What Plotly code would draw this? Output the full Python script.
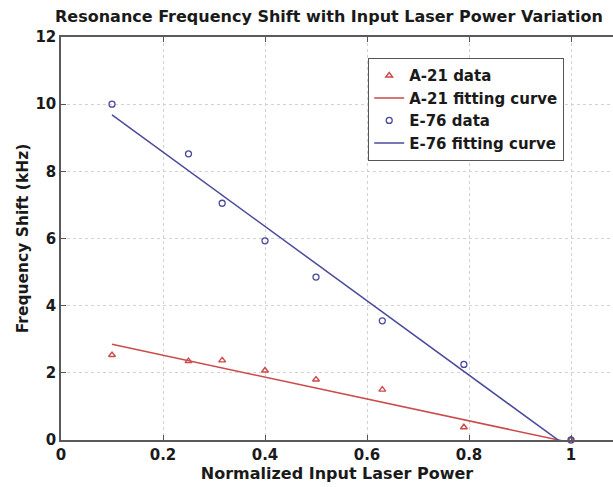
import plotly.graph_objects as go

# Normalized input laser power
power = [0.1, 0.25, 0.316, 0.4, 0.5, 0.63, 0.79, 1.0]
# Frequency shift (kHz)
a21_shift = [2.53, 2.35, 2.37, 2.07, 1.8, 1.5, 0.38, 0.0]
e76_shift = [10.0, 8.52, 7.05, 5.93, 4.85, 3.55, 2.25, 0.0]
# Linear fitting curves (end points)
fit_x = [0.1, 1.0]
a21_fit = [2.85, -0.08]
e76_fit = [9.68, -0.28]

RED = "#cc4a4a"
BLUE = "#4a4a9c"
FONT = "DejaVu Sans"

fig = go.Figure()
fig.add_trace(go.Scatter(x=power, y=a21_shift, mode="markers", name="A-21 data",
                         marker=dict(symbol="triangle-up-open", size=6, color=RED,
                                     line=dict(width=1.4, color=RED)),
                         cliponaxis=False))
fig.add_trace(go.Scatter(x=fit_x, y=a21_fit, mode="lines", name="A-21 fitting curve",
                         line=dict(color=RED, width=1.5)))
fig.add_trace(go.Scatter(x=power, y=e76_shift, mode="markers", name="E-76 data",
                         marker=dict(symbol="circle-open", size=6, color=BLUE,
                                     line=dict(width=1.3, color=BLUE)),
                         cliponaxis=False))
fig.add_trace(go.Scatter(x=fit_x, y=e76_fit, mode="lines", name="E-76 fitting curve",
                         line=dict(color=BLUE, width=1.5)))

fig.update_layout(
    width=613, height=487,
    margin=dict(l=61, r=0, t=37, b=47),
    paper_bgcolor="white", plot_bgcolor="white",
    font=dict(family=FONT, color="#1a1a1a", size=15),
    title=dict(text="<b>Resonance Frequency Shift with Input Laser Power Variation</b>",
               xref="container", x=55/613, xanchor="left",
               yref="container", y=1-16/487, yanchor="middle",
               font=dict(family=FONT, size=16, color="#1a1a1a")),
    showlegend=True,
    legend=dict(x=(368-61)/552, y=1-(58-37)/403, xanchor="left", yanchor="top",
                bgcolor="white", bordercolor="#555", borderwidth=1.2,
                font=dict(family=FONT, size=15, color="#1a1a1a", weight="bold"),
                itemwidth=30, tracegroupgap=0),
)
fig.update_xaxes(range=[0, 552/510], tickvals=[0, 0.2, 0.4, 0.6, 0.8, 1.0],
                 ticktext=["0", "0.2", "0.4", "0.6", "0.8", "1"],
                 tickfont=dict(family=FONT, size=15, weight="bold"),
                 ticks="inside", ticklen=5, tickcolor="#555",
                 showline=True, linecolor="#5a5a5a", linewidth=1.5, mirror="ticks",
                 showgrid=True, gridcolor="#d2d2d2", griddash="dot", gridwidth=1,
                 zeroline=False,
                 title=dict(text="<b>Normalized Input Laser Power</b>", standoff=1,
                            font=dict(family=FONT, size=16)))
fig.update_yaxes(range=[0, 12], tickvals=[0, 2, 4, 6, 8, 10, 12],
                 tickfont=dict(family=FONT, size=15, weight="bold"),
                 ticks="inside", ticklen=5, tickcolor="#555",
                 showline=True, linecolor="#5a5a5a", linewidth=1.5,
                 showgrid=True, gridcolor="#d2d2d2", griddash="dot", gridwidth=1,
                 zeroline=False,
                 title=dict(text="<b>Frequency Shift (kHz)</b>", standoff=3,
                            font=dict(family=FONT, size=15.5)))

fig.write_html("out.html")
